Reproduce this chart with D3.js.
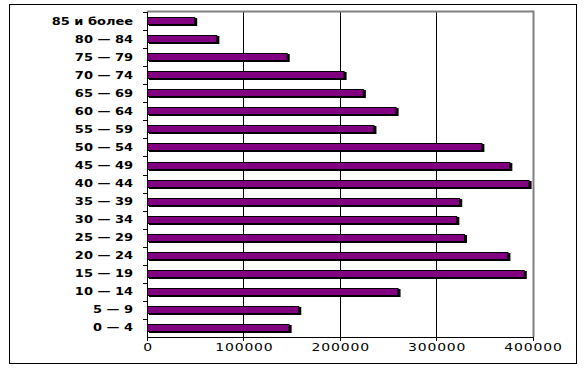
<!DOCTYPE html>
<html>
<head>
<meta charset="utf-8">
<script src="https://cdn.jsdelivr.net/npm/d3@7"></script>
<style>
  body { margin: 0; background: #fff; }
  svg { display: block; }
</style>
</head>
<body>
<div id="chart"></div>
<script>
// age groups, top to bottom as in the picture
const ageGroups = ["85 и более", "80 — 84", "75 — 79", "70 — 74", "65 — 69", "60 — 64",
  "55 — 59", "50 — 54", "45 — 49", "40 — 44", "35 — 39", "30 — 34", "25 — 29",
  "20 — 24", "15 — 19", "10 — 14", "5 — 9", "0 — 4"];
const population = [50000, 73000, 146000, 205000, 225000, 259000,
  236000, 348000, 377000, 397000, 325000, 322000, 330000,
  375000, 392000, 261000, 158000, 148000];
const xTicks = [0, 100000, 200000, 300000, 400000];

const width = 588, height = 370;
const margin = { top: 12, left: 147, right: 55, bottom: 33 };

const svg = d3.select("#chart").append("svg")
  .attr("width", width)
  .attr("height", height);

// outer frame
svg.append("rect")
  .attr("x", 9.5).attr("y", 4.5)
  .attr("width", 567).attr("height", 359)
  .attr("fill", "none")
  .attr("stroke", "#000")
  .attr("stroke-width", 1);

const x = d3.scaleLinear()
  .domain([0, 400000])
  .range([margin.left, width - margin.right - 0.5]);

const y = d3.scaleBand()
  .domain(ageGroups)
  .range([margin.top, height - margin.bottom])
  .paddingInner(0.56)
  .paddingOuter(0.28);

const plotTop = margin.top, plotBottom = height - margin.bottom;

// gridlines
svg.append("g")
  .selectAll("line")
  .data(xTicks.slice(1, -1))
  .join("line")
  .attr("x1", d => Math.round(x(d)) + 0.5)
  .attr("x2", d => Math.round(x(d)) + 0.5)
  .attr("y1", plotTop)
  .attr("y2", plotBottom)
  .attr("stroke", "#000");

// gray plot border top and right
svg.append("path")
  .attr("d", `M${margin.left},${plotTop - 0.5}H${Math.round(x(400000)) + 0.5}V${plotBottom}`)
  .attr("fill", "none")
  .attr("stroke", "#808080")
  .attr("stroke-width", 2);

// bar shadows
const bars = svg.append("g");
bars.selectAll("rect.shadow")
  .data(population)
  .join("rect")
  .attr("class", "shadow")
  .attr("x", x(0) + 2)
  .attr("y", (d, i) => Math.round(y(ageGroups[i])) + 1)
  .attr("width", d => x(d) - x(0))
  .attr("height", Math.round(y.bandwidth()))
  .attr("fill", "#000");

bars.selectAll("rect.bar")
  .data(population)
  .join("rect")
  .attr("class", "bar")
  .attr("x", x(0) + 0.5)
  .attr("y", (d, i) => Math.round(y(ageGroups[i])) + 0.5)
  .attr("width", d => x(d) - x(0) - 1)
  .attr("height", Math.round(y.bandwidth()) - 1)
  .attr("fill", "#800080")
  .attr("stroke", "#000")
  .attr("stroke-width", 1);

// left axis with ticks between categories
const step = y.step();
const yAxis = svg.append("g");
yAxis.append("line")
  .attr("x1", margin.left + 0.5).attr("x2", margin.left + 0.5)
  .attr("y1", plotTop).attr("y2", plotBottom + 4)
  .attr("stroke", "#000");
yAxis.selectAll("line.tick")
  .data(d3.range(ageGroups.length))
  .join("line")
  .attr("class", "tick")
  .attr("x1", margin.left - 4).attr("x2", margin.left)
  .attr("y1", i => Math.round(plotTop + i * step) + 0.5)
  .attr("y2", i => Math.round(plotTop + i * step) + 0.5)
  .attr("stroke", "#000");
// the original font is wide, so stretch labels horizontally
yAxis.selectAll("text")
  .data(ageGroups)
  .join("text")
  .attr("transform", d => `translate(133,${y(d) + y.bandwidth() / 2}) scale(1.3,1)`)
  .attr("dy", "0.35em")
  .attr("text-anchor", "end")
  .attr("font-family", "DejaVu Sans, sans-serif")
  .attr("font-weight", "bold")
  .attr("font-size", 10)
  .text(d => d);

// bottom axis
const xAxis = svg.append("g");
xAxis.append("line")
  .attr("x1", margin.left).attr("x2", x(400000) + 1)
  .attr("y1", plotBottom + 0.5).attr("y2", plotBottom + 0.5)
  .attr("stroke", "#000");
xAxis.selectAll("line.tick")
  .data(xTicks)
  .join("line")
  .attr("class", "tick")
  .attr("x1", d => Math.round(x(d)) + 0.5)
  .attr("x2", d => Math.round(x(d)) + 0.5)
  .attr("y1", plotBottom).attr("y2", plotBottom + 4)
  .attr("stroke", "#000");
xAxis.selectAll("text")
  .data(xTicks)
  .join("text")
  .attr("transform", d => `translate(${x(d) + 1},${plotBottom + 14}) scale(1.4,1)`)
  .attr("text-anchor", "middle")
  .attr("font-family", "DejaVu Sans, sans-serif")
  .attr("font-size", 10)
  .attr("letter-spacing", 0.6)
  .text(d => d);
</script>
</body>
</html>
